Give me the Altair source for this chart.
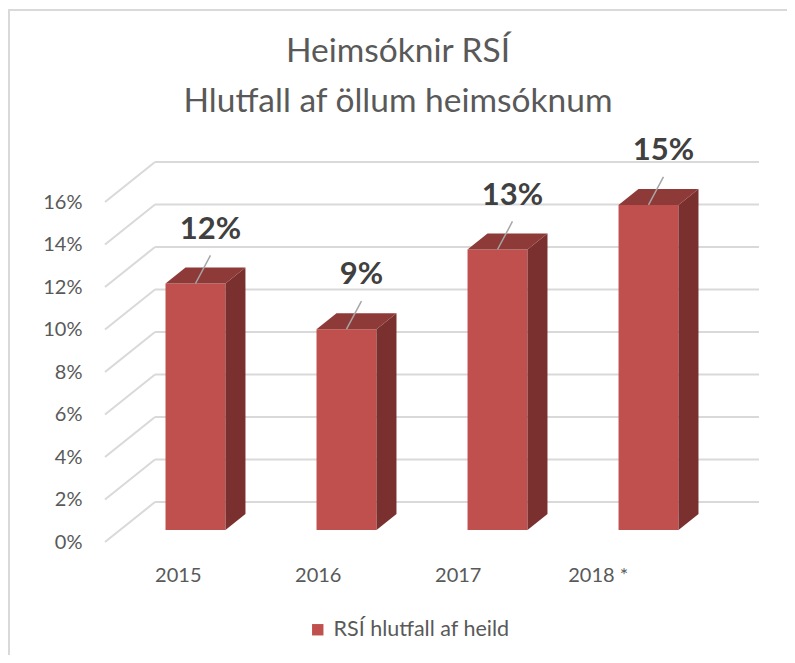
import altair as alt
import pandas as pd

# ---------------- data ----------------
years = ["2015", "2016", "2017", "2018 *"]
values = [11.6, 9.45, 13.2, 15.3]          # % of all visits
series_name = "RSÍ hlutfall af heild"
y_ticks = [0, 2, 4, 6, 8, 10, 12, 14, 16]
title_lines = ["Heimsóknir RSÍ", "Hlutfall af öllum heimsóknum"]

# ---------------- 3-D geometry (scale units) ----------------
DEPTH_X = 0.331      # floor depth along x (category units)
DEPTH_Y = 1.88       # floor depth along y (percent units)
BAR_HALF = 0.1985    # half width of a bar's front face
D0, D1 = 0.3, 0.7    # bar position inside the floor depth
LEAD_DX, LEAD_DY = 0.099, 1.32
X_DOMAIN = [-0.5, 3.5 + DEPTH_X]
Y_DOMAIN = [0, 20]
W, H = 654, 425

FRONT = "#C0504D"
SIDE = "#7A302E"
TOP = "#8E3A38"
GRID = "#D9D9D9"
TXT = "#595959"
FONT = "Lato"

xs = alt.Scale(domain=X_DOMAIN, nice=False, zero=False)
ys = alt.Scale(domain=Y_DOMAIN, nice=False, zero=False)

# ---------------- derived tables ----------------
grid = pd.DataFrame({"t": y_ticks})
grid["x0"] = X_DOMAIN[0]
grid["x1"] = X_DOMAIN[0] + DEPTH_X
grid["xe"] = X_DOMAIN[1]
grid["tb"] = grid["t"] + DEPTH_Y

bars = pd.DataFrame({"year": years, "value": values})
bars["i"] = range(len(years))
bars["series"] = series_name
bars["center"] = bars["i"] + D0 * DEPTH_X
bars["left"] = bars["center"] - BAR_HALF
bars["right"] = bars["center"] + BAR_HALF
bars["y0"] = D0 * DEPTH_Y
bars["y1"] = bars["value"] + bars["y0"]
bars["lx2"] = bars["center"] + LEAD_DX
bars["ly2"] = bars["y1"] + LEAD_DY
bars["label"] = [f"{v:.0f}%" for v in values]

ddx = (D1 - D0) * DEPTH_X
ddy = (D1 - D0) * DEPTH_Y
side_rows, top_rows = [], []
for _, r in bars.iterrows():
    side_rows.append({"bar": r["year"], "x": r["right"], "lo": r["y0"], "hi": r["y1"]})
    side_rows.append({"bar": r["year"], "x": r["right"] + ddx, "lo": r["y0"] + ddy, "hi": r["y1"] + ddy})
    top_rows.append({"bar": r["year"], "y": r["y1"], "xl": r["left"], "xr": r["right"]})
    top_rows.append({"bar": r["year"], "y": r["y1"] + ddy, "xl": r["left"] + ddx, "xr": r["right"] + ddx})
side = pd.DataFrame(side_rows)
top = pd.DataFrame(top_rows)

# ---------------- layers ----------------
yaxis = alt.Axis(values=y_ticks, labelExpr="datum.value + '%'", domain=False, ticks=False,
                 grid=False, labelPadding=23, labelFontSize=20, labelColor=TXT,
                 labelFont=FONT, title=None, labelBound=False, labelOverlap=False)


def Y(field):
    return alt.Y(field, scale=ys, axis=yaxis)


diag = alt.Chart(grid).mark_rule(color=GRID, strokeWidth=2).encode(
    x=alt.X("x0:Q", scale=xs, axis=None), x2="x1:Q",
    y=Y("t:Q"), y2="tb:Q")

back = alt.Chart(grid).mark_rule(color=GRID, strokeWidth=2).encode(
    x=alt.X("x1:Q", scale=xs, axis=None), x2="xe:Q",
    y=Y("tb:Q"))

front = alt.Chart(bars).mark_rect().encode(
    x=alt.X("left:Q", scale=xs, axis=None), x2="right:Q",
    y=Y("y0:Q"), y2="y1:Q",
    color=alt.Color("series:N", scale=alt.Scale(domain=[series_name], range=[FRONT]),
                    legend=alt.Legend(orient="none", legendX=202, legendY=502, title=None,
                                      symbolType="square", symbolSize=130, symbolStrokeWidth=0,
                                      labelFontSize=21.5, labelFont=FONT, labelColor=TXT,
                                      labelOffset=5, labelLimit=0, padding=0)))

side_l = alt.Chart(side).mark_area(orient="vertical", color=SIDE).encode(
    x=alt.X("x:Q", scale=xs, axis=None),
    y=Y("hi:Q"), y2="lo:Q", detail="bar:N")

top_l = alt.Chart(top).mark_area(orient="horizontal", color=TOP).encode(
    y=Y("y:Q"),
    x=alt.X("xl:Q", scale=xs, axis=None), x2="xr:Q", detail="bar:N")

leader = alt.Chart(bars).mark_rule(color="#A6A6A6", strokeWidth=1.5).encode(
    x=alt.X("center:Q", scale=xs, axis=None), x2="lx2:Q",
    y=Y("y1:Q"), y2="ly2:Q")

labels = alt.Chart(bars).mark_text(fontSize=31, fontWeight="bold", font=FONT, color="#404040",
                                   dx=15, dy=-54, baseline="middle").encode(
    x=alt.X("center:Q", scale=xs, axis=None),
    y=Y("y1:Q"), text="label:N")

xcats = alt.Chart(pd.DataFrame({"year": years})).mark_point(opacity=0).encode(
    x=alt.X("year:N", sort=years, scale=alt.Scale(type="point", padding=0.836, align=0.311),
            axis=alt.Axis(domain=False, ticks=False, tickSize=0, grid=False, labelAngle=0,
                          labelPadding=23, labelFontSize=20, labelColor=TXT, labelFont=FONT,
                          title=None)),
    y=alt.value(H))

# chart title (two lines), centred over the whole chart frame
title_l = alt.Chart(alt.Data(values=[{"t": "\n".join(title_lines)}])).mark_text(
    fontSize=33.5, font=FONT, color=TXT, align="center", baseline="middle",
    lineBreak="\n", lineHeight=50).encode(
    text="t:N", x=alt.value(293), y=alt.value(-65))

one = alt.Data(values=[{"k": 1}])
border_l = alt.Chart(one).mark_rule(color=GRID, strokeWidth=2).encode(
    x=alt.value(-96), y=alt.value(-107), y2=alt.value(H + 113))
border_t = alt.Chart(one).mark_rule(color=GRID, strokeWidth=2).encode(
    x=alt.value(-97), x2=alt.value(W + 28), y=alt.value(-107))

chart = alt.layer(
    border_l, border_t, title_l, diag, back, front, side_l, top_l, leader, labels, xcats
).resolve_scale(x="independent", y="shared").resolve_axis(y="shared").properties(
    width=W, height=H,
    autosize=alt.AutoSizeParams(type="none"),
    padding={"left": 97, "top": 109, "right": 28, "bottom": 113},
    background="white",
).configure_view(stroke=None)

chart.save("out.html", embed_options={"renderer": "svg", "actions": False})
